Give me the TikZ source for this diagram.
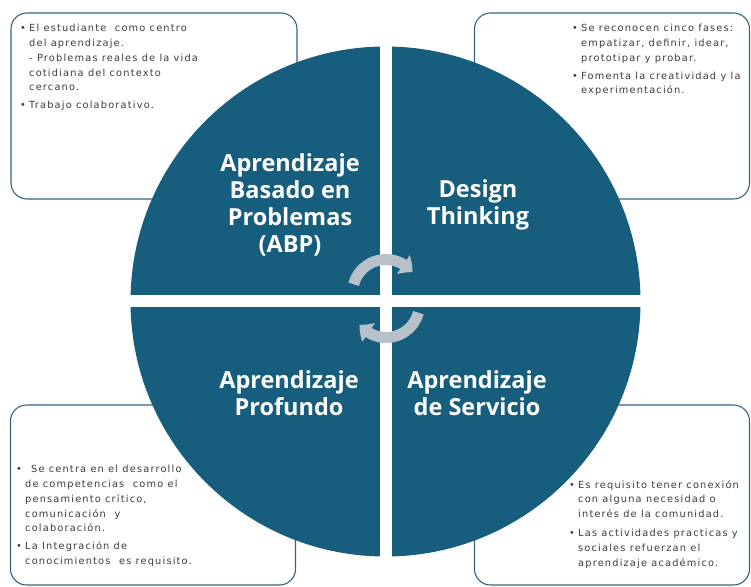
\documentclass[tikz,border=0pt]{standalone}
\usepackage{fontspec}
\setmainfont{Open Sans}
\newfontfamily\notefont[LetterSpace=12]{DejaVu Sans}
\usepackage{tikz}
\usetikzlibrary{arrows.meta, bending}
\definecolor{quadblue}{RGB}{23,93,125}
\definecolor{boxline}{RGB}{52,100,132}
\definecolor{notegray}{RGB}{60,60,60}
\definecolor{cyclegray}{RGB}{184,193,202}
\newcommand{\itm}{\makebox[9pt][l]{\textbullet}}
\newcommand{\ind}{\hspace*{9pt}}

\begin{document}
\begin{tikzpicture}[x=1pt, y=1pt,
    infobox/.style={draw=boxline, line width=1.1pt, rounded corners=16pt, fill=white},
    heading/.style={text=white, align=center, font=\fontsize{23.5}{27}\selectfont\bfseries},
    note/.style={text=notegray, align=left, anchor=north west, inner sep=0pt, font=\notefont\fontsize{9.8}{14.8}\selectfont},
    cyclearrow/.style={draw=cyclegray, line width=11pt, -{Triangle[width=22pt, length=12pt, bend]}}]
    \useasboundingbox (0,0) rectangle (751,586);
    % boxes behind the wheel
    \node[infobox, minimum width=286pt, minimum height=186pt] (boxABP) at (154,480) {};
    \node[infobox, minimum width=275pt, minimum height=186pt] (boxDT) at (612,480) {};
    \node[infobox, minimum width=285pt, minimum height=180pt] (boxAP) at (153,91) {};
    \node[infobox, minimum width=275pt, minimum height=180pt] (boxAS) at (612,91) {};
    % wheel
    \coordinate (hub) at (385.5,284.5);
    \fill[quadblue] (hub) circle[radius=255];
    \fill[white] (379.5,28) rectangle (391.5,541);
    \fill[white] (129,278.5) rectangle (642,290.5);
    \node[heading] (ABP) at (290,381) {Aprendizaje\\Basado en\\Problemas\\(ABP)};
    \node[heading] (DT) at (478,381.5) {Design\\Thinking};
    \node[heading] (AP) at (289,192.5) {Aprendizaje\\Profundo};
    \node[heading] (AS) at (477,192.5) {Aprendizaje\\de Servicio};
    % cycle arrows
    \coordinate (cycup) at (386,293);
    \coordinate (cycdown) at (386,282);
    \draw[cyclearrow] ([shift={(165:33.5)}]cycup) arc[start angle=165, end angle=38, radius=33.5];
    \draw[cyclearrow] ([shift={(-15:33.5)}]cycdown) arc[start angle=-15, end angle=-142, radius=33.5];
    % notes
    \node[note] (noteABP) at (20,562) {
      \itm El estudiante\ \ como centro\\
      \ind del aprendizaje.\\
      \ind - Problemas reales de la vida\\
      \ind cotidiana\ del contexto\\
      \ind cercano.\\[3pt]
      \itm Trabajo colaborativo.
    };
    \node[note] (noteDT) at (572,562) {
      \itm Se reconocen\ cinco fases:\\
      \ind empatizar, definir,\ idear,\\
      \ind prototipar y probar.\\[3pt]
      \itm Fomenta\ la creatividad y la\\
      \ind experimentación.
    };
    \node[note] (noteAP) at (16,121) {
      \itm\ \,Se centra en el desarrollo\\
      \ind de competencias\ \ como el\\
      \ind pensamiento\ crítico,\\
      \ind comunicación\ \ y\\
      \ind colaboración.\\[3pt]
      \itm La Integración\ de\\
      \ind conocimientos\ \ es requisito.
    };
    \node[note] (noteAS) at (569,106) {
      \itm Es requisito tener conexión\\
      \ind con alguna necesidad o\\
      \ind interés de la comunidad.\\[4pt]
      \itm Las actividades practicas y\\
      \ind sociales refuerzan el\\
      \ind aprendizaje académico.
    };
\end{tikzpicture}
\end{document}
